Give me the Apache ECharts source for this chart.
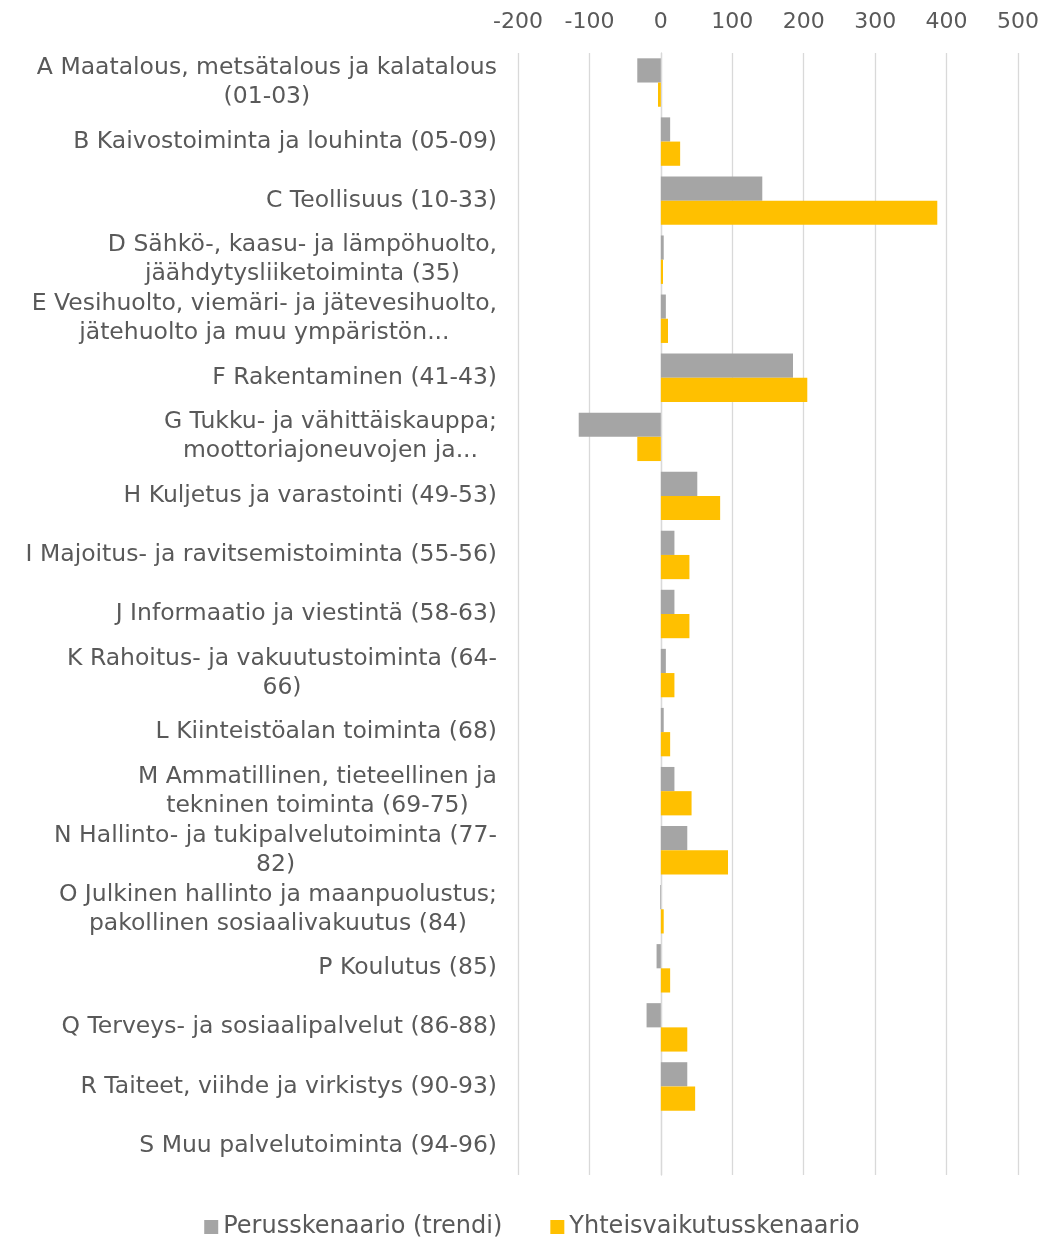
<!DOCTYPE html>
<html>
<head>
<meta charset="utf-8">
<script src="https://cdn.jsdelivr.net/npm/echarts@6/dist/echarts.min.js"></script>
<style>
  html, body { margin: 0; padding: 0; background: #fff; }
  #chart { width: 1064px; height: 1238px; }
</style>
</head>
<body>
<div id="chart"></div>
<script>
const categories = [
  'A Maatalous, metsätalous ja kalatalous\n(01-03)',
  'B Kaivostoiminta ja louhinta (05-09)',
  'C Teollisuus (10-33)',
  'D Sähkö-, kaasu- ja lämpöhuolto,\njäähdytysliiketoiminta (35)',
  'E Vesihuolto, viemäri- ja jätevesihuolto,\njätehuolto ja muu ympäristön...',
  'F Rakentaminen (41-43)',
  'G Tukku- ja vähittäiskauppa;\nmoottoriajoneuvojen ja...',
  'H Kuljetus ja varastointi (49-53)',
  'I Majoitus- ja ravitsemistoiminta (55-56)',
  'J Informaatio ja viestintä (58-63)',
  'K Rahoitus- ja vakuutustoiminta (64-\n66)',
  'L Kiinteistöalan toiminta (68)',
  'M Ammatillinen, tieteellinen ja\ntekninen toiminta (69-75)',
  'N Hallinto- ja tukipalvelutoiminta (77-\n82)',
  'O Julkinen hallinto ja maanpuolustus;\npakollinen sosiaalivakuutus (84)',
  'P Koulutus (85)',
  'Q Terveys- ja sosiaalipalvelut (86-88)',
  'R Taiteet, viihde ja virkistys (90-93)',
  'S Muu palvelutoiminta (94-96)'
]

const seriesNames = ['Perusskenaario (trendi)', 'Yhteisvaikutusskenaario']

const perus = [-33, 13, 142, 4, 7, 185, -115, 51, 19, 19, 7, 4, 19, 37, -1, -6, -20, 37, 0]
const yhteis = [-4, 27, 387, 3, 10, 205, -33, 83, 40, 40, 19, 13, 43, 94, 4, 13, 37, 48, 0]

const xTicks = [-200, -100, 0, 100, 200, 300, 400, 500]

const textColor = '#595959'
const fontFamily = '"DejaVu Sans", "Noto Sans", sans-serif'

const myChart = echarts.init(document.getElementById('chart'), null, { renderer: 'canvas' })

myChart.setOption({
    animation: false,
    backgroundColor: '#fff',
    color: ['#a5a5a5', '#ffc000'],
    textStyle: { fontFamily: fontFamily, color: textColor },
    grid: {
        left: 518,
        right: 46,
        top: 53,
        bottom: 63
    },
    legend: {
        bottom: -6,
        left: 'center',
        itemWidth: 14,
        itemHeight: 14,
        itemGap: 48,
        icon: 'rect',
        textStyle: { fontSize: 24, color: textColor, fontFamily: fontFamily },
        data: seriesNames
    },
    xAxis: {
        type: 'value',
        position: 'top',
        min: xTicks[0],
        max: xTicks[xTicks.length - 1],
        interval: 100,
        axisLine: { show: false },
        axisTick: { show: false },
        axisLabel: { fontSize: 22, color: textColor, margin: 20, fontFamily: fontFamily },
        splitLine: { lineStyle: { color: '#d9d9d9', width: 1.3 } }
    },
    yAxis: {
        type: 'category',
        inverse: true,
        data: categories,
        axisLine: { show: true, lineStyle: { color: '#d9d9d9', width: 1.3 } },
        axisTick: { show: false },
        axisLabel: {
            // inner lines centred inside a right aligned block
            formatter: (value) => value.split('\n').map(l => '{c|' + l + '}').join('\n'),
            align: 'right',
            margin: 21,
            rich: {
                c: { align: 'center', fontSize: 23.5, lineHeight: 29, color: textColor, fontFamily: fontFamily }
            }
        }
    },
    series: [
        {
            name: seriesNames[0],
            type: 'bar',
            data: perus,
            barGap: '0%',
            barCategoryGap: '18%'
        },
        {
            name: seriesNames[1],
            type: 'bar',
            data: yhteis,
            barGap: '0%',
            barCategoryGap: '18%'
        }
    ]
})
</script>
</body>
</html>
